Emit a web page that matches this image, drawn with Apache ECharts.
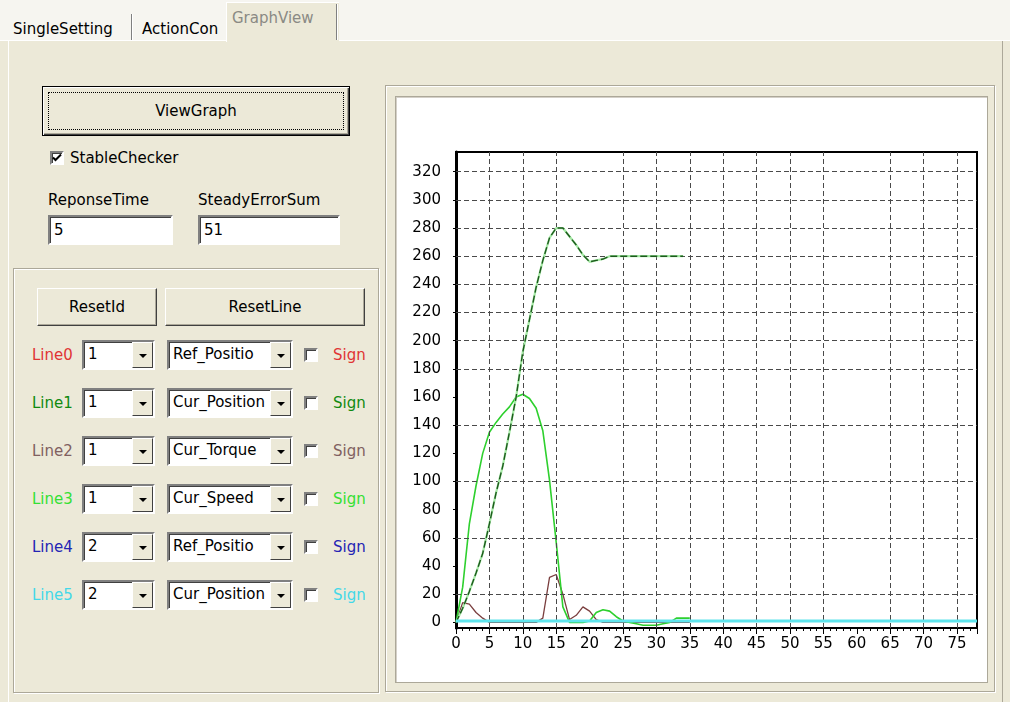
<!DOCTYPE html>
<html><head><meta charset="utf-8">
<script src="https://cdn.jsdelivr.net/npm/echarts@6/dist/echarts.min.js"></script>
<style>
body{margin:0;width:1010px;height:702px;overflow:hidden;background:#ece9d8;font-family:"DejaVu Sans",Arial,sans-serif;font-size:15px;color:#000;position:relative}
.a{position:absolute;white-space:nowrap}
.top{left:0;top:0;width:1010px;height:40px;background:#f6f5f0;border-bottom:1px solid #fff}
.sep{width:1px;background:#808080;border-right:1px solid #fff}
.btn{background:#ece9d8;border:1px solid;border-color:#fff #404040 #404040 #fff;box-shadow:inset -1px -1px #aca899;box-sizing:border-box;display:flex;align-items:center;justify-content:center}
.edit{background:#fff;border:2px solid;border-color:#808080 #fff #fff #808080;box-shadow:inset 1px 1px #404040;box-sizing:border-box;padding:2px 0 0 4px;line-height:22px}
.combo{background:#fff;border:2px solid;border-color:#808080 #fff #fff #808080;box-shadow:inset 1px 1px #404040;box-sizing:border-box;padding-left:4px;line-height:24px;overflow:hidden}
.dd{position:absolute;right:0;top:0;width:21px;height:100%;background:#ece9d8;border:1px solid;border-color:#fff #404040 #404040 #fff;box-sizing:border-box}
.dd:after{content:"";position:absolute;left:6px;top:11px;border-left:4px solid transparent;border-right:4px solid transparent;border-top:4px solid #000}
.chk{width:14px;height:14px;background:#fff;border:2px solid;border-color:#808080 #fff #fff #808080;box-shadow:inset 1px 1px #404040;box-sizing:border-box}
.etch{border:1px solid #aca899;box-shadow:1px 1px #fff, inset 1px 1px #fff;box-sizing:border-box}
#chart{position:absolute;left:0;top:0;width:1010px;height:702px}
</style></head><body>
<div class="a top"></div>
<div class="a" style="left:13px;top:20px">SingleSetting</div>
<div class="a sep" style="left:131px;top:14px;height:26px"></div>
<div class="a" style="left:142px;top:20px">ActionCon</div>
<div class="a" style="left:226px;top:2px;width:112px;height:39px;background:#ece9d8;border-left:1px solid #fff;border-top:1px solid #fff"></div>
<div class="a" style="left:232px;top:9px;color:#8a8a84">GraphView</div>
<div class="a sep" style="left:336px;top:4px;height:36px"></div>
<div class="a" style="left:8px;top:41px;width:995px;height:661px;border-left:1px solid #fff;border-right:1px solid #aca899;box-sizing:border-box"></div>

<div class="a btn" style="left:42px;top:86px;width:308px;height:50px;border:1px solid #000;box-shadow:inset 1px 1px #fff, inset -1px -1px #404040, inset -2px -2px #aca899">
  <div style="position:absolute;left:5px;top:5px;right:5px;bottom:5px;border:1px dotted #000"></div>ViewGraph</div>
<div class="a chk" style="left:50px;top:151px"></div>
<svg class="a" style="left:52px;top:153px" width="10" height="10" viewBox="0 0 10 10"><polyline points="1,4.5 3.5,7 9,1.5" fill="none" stroke="#000" stroke-width="2"/></svg>
<div class="a" style="left:70px;top:149px">StableChecker</div>
<div class="a" style="left:48px;top:191px">ReponseTime</div>
<div class="a edit" style="left:48px;top:215px;width:125px;height:30px">5</div>
<div class="a" style="left:198px;top:191px">SteadyErrorSum</div>
<div class="a edit" style="left:198px;top:215px;width:142px;height:30px">51</div>

<div class="a etch" style="left:13px;top:268px;width:366px;height:425px"></div>
<div class="a btn" style="left:37px;top:288px;width:120px;height:38px">ResetId</div>
<div class="a btn" style="left:165px;top:288px;width:200px;height:38px">ResetLine</div>
<div id="rows"></div>

<div class="a etch" style="left:385px;top:85px;width:610px;height:607px"></div>
<div class="a" style="left:395px;top:96px;width:593px;height:587px;background:#fff;border:1px solid #aca899;box-sizing:border-box;box-shadow:inset 1px 1px #d4d0c8"></div>
<div id="chart"></div>
<script>
// ---- GUI rows ----
const lineNames = ["Line0","Line1","Line2","Line3","Line4","Line5"];
const lineColors = ["#e03434","#108a10","#806060","#34e034","#2424b4","#44d8e8"];
const groupValues = ["1","1","1","1","2","2"];
const signalNames = ["Ref_Positio","Cur_Position","Cur_Torque","Cur_Speed","Ref_Positio","Cur_Position"];
let html = "";
lineNames.forEach((n,i)=>{
  const c = 355 + 48*i;
  html += `<div class="a" style="left:32px;top:${c-9}px;color:${lineColors[i]}">${n}</div>`;
  html += `<div class="a combo" style="left:82px;top:${c-15}px;width:73px;height:30px">${groupValues[i]}<div class="dd"></div></div>`;
  html += `<div class="a combo" style="left:167px;top:${c-15}px;width:126px;height:30px">${signalNames[i]}<div class="dd"></div></div>`;
  html += `<div class="a chk" style="left:304px;top:${c-7}px"></div>`;
  html += `<div class="a" style="left:333px;top:${c-9}px;width:32px;overflow:hidden;color:${lineColors[i]}">Sign</div>`;
});
document.getElementById('rows').innerHTML = html;

// ---- chart data ----
const timeSteps   = [0,1,2,3,4,5,6,7,8,9,10,11,12,13,14,15,16,17,18,19,20,21,22,23,24,25,26,27,28,29,30,31,32,33,34,35];
const curPosition = [0,10,22,35,49,70,92,111,135,160,192,215,238,257,273,280,280,274,268,261,256,257,258,260,260,260,260,260,260,260,260,260,260,260,260,null];
const curSpeed    = [0,25,70,97,120,135,142,148,153,160,162,159,152,136,101,57,11,0,0,0,1,7,9,8,4,1,0,-1,-2,-2,-2,-1,0,3,3,3];
const curTorque   = [0,14,13,7,3,0,0,0,0,0,0,0,0,3,32,34,20,2,5,11,8,2,0,0,0,0,0,0,0,0,0,0,0,0,0,0];
const line5X      = [0,78];
const line5Values = [1,1];
const yLabels     = [0,20,40,60,80,100,120,140,160,180,200,220,240,260,280,300,320];
const hGridValues = [20,60,100,140,180,200,220,240,260,280,300,320];
const vGridValues = [5,10,15,25,30,35,40,45,50,55,65,70,75];

const pair = (xs, ys) => xs.map((x,i)=>[x, ys[i]]);
const font = '"DejaVu Sans", Arial, sans-serif';
const gridStyle = {type:[5,3], color:'#4a4a4a', width:1};

const chart = echarts.init(document.getElementById('chart'), null, {renderer:'canvas'});
chart.setOption({
  animation:false,
  backgroundColor:'transparent',
  grid:{left:456, top:152, right:33, bottom:74, show:true, borderColor:'#000', borderWidth:2, backgroundColor:'transparent'},
  xAxis:[
    {type:'value', min:0, max:78, interval:1, position:'bottom',
     axisLine:{show:true, onZero:false, lineStyle:{color:'#000', width:2}},
     axisTick:{show:true, length:3, lineStyle:{color:'#000'}},
     axisLabel:{show:false}, splitLine:{show:false}},
    {type:'value', min:0, max:78, interval:5, position:'bottom',
     axisLine:{show:false, onZero:false},
     axisTick:{show:true, length:6, lineStyle:{color:'#000'}},
     axisLabel:{show:true, margin:9, color:'#000', fontSize:15, fontFamily:font,
       formatter:v => (v % 5 === 0 ? String(v) : '')},
     splitLine:{show:false}}
  ],
  yAxis:{type:'value', min:-4, max:334,
    axisLine:{show:true, onZero:false, lineStyle:{color:'#000', width:3}},
    axisTick:{show:true, length:3, customValues:yLabels, lineStyle:{color:'#000'}},
    axisLabel:{show:true, customValues:yLabels, margin:15, color:'#000', fontSize:15, fontFamily:font},
    splitLine:{show:false}},
  series:[
    {type:'line', name:'grid', data:[], silent:true, z:1,
     markLine:{silent:true, symbol:['none','none'], label:{show:false}, lineStyle:gridStyle,
       data: hGridValues.map(v=>({yAxis:v})).concat(vGridValues.map(v=>({xAxis:v})))}},
    {type:'line', name:'Cur_Torque', data:pair(timeSteps, curTorque), showSymbol:false, z:3,
     lineStyle:{color:'#7a3e3e', width:1.3}},
    {type:'line', name:'Cur_Speed', data:pair(timeSteps, curSpeed), showSymbol:false, z:4,
     lineStyle:{color:'#2ed02e', width:1.6}},
    {type:'line', name:'Cur_Position_halo', data:pair(timeSteps, curPosition), showSymbol:false, z:5,
     lineStyle:{color:'#a6eaa6', width:2.2}},
    {type:'line', name:'Cur_Position', data:pair(timeSteps, curPosition), showSymbol:false, z:6,
     lineStyle:{color:'#1d5a1d', width:1.4, type:[7,3]}},
    {type:'line', name:'Line5', data:pair(line5X, line5Values), showSymbol:false, z:7,
     lineStyle:{color:'#5ee4ec', width:3}}
  ]
});
</script>
</body></html>
